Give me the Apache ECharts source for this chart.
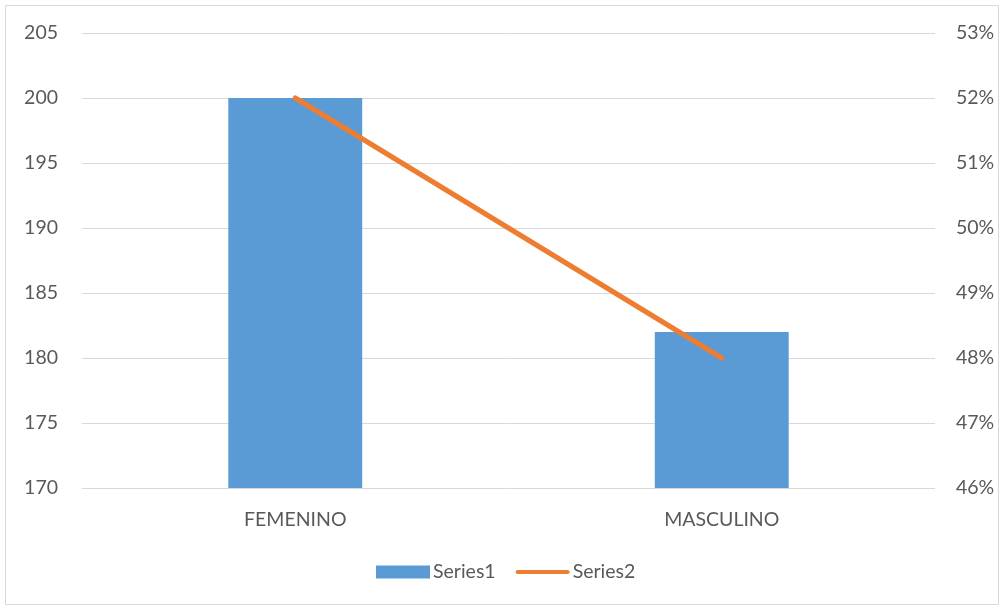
<!DOCTYPE html>
<html><head><meta charset="utf-8">
<script src="https://cdn.jsdelivr.net/npm/echarts@6/dist/echarts.min.js"></script>
<style>html,body{margin:0;padding:0;background:#fff}#c{width:1005px;height:608px}</style>
</head><body><div id="c"></div>
<script>
const categories = ['FEMENINO', 'MASCULINO'];
const series1 = [200, 182];
const series2 = [0.52, 0.48];
const leftTicks = [170, 205, 5];
const rightTicks = [0.46, 0.53, 0.01];

const chart = echarts.init(document.getElementById('c'));
const font = 'Lato, "Open Sans", sans-serif';
const fs = 19.5;
chart.setOption({
  animation: false,
  textStyle: { fontFamily: font },
  graphic: [{ type: 'rect', shape: { x: 5.5, y: 5.5, width: 993, height: 599 }, style: { fill: 'none', stroke: '#d9d9d9', lineWidth: 1 }, silent: true }],
  grid: { left: 82, right: 70, top: 33, bottom: 120, containLabel: false },
  legend: {
    left: 371, top: 557,
    itemWidth: 54, itemHeight: 13, itemGap: 20,
    textStyle: { color: '#595959', fontSize: fs, fontFamily: font, padding: [0, 0, 0, -2] },
    data: [
      { name: 'Series1', icon: 'rect' },
      { name: 'Series2', icon: 'path://M0,0 L0,0.001 Z M0,13 L0,13.001 Z M2,4.5 L52,4.5 A2,2 0 0 1 52,8.5 L2,8.5 A2,2 0 0 1 2,4.5 Z' }
    ]
  },
  xAxis: {
    type: 'category', data: categories,
    axisLine: { show: false }, axisTick: { show: false },
    axisLabel: { color: '#595959', fontSize: fs, margin: 22, fontFamily: font }
  },
  yAxis: [
    { type: 'value', min: leftTicks[0], max: leftTicks[1], interval: leftTicks[2],
      axisLine: { show: false }, axisTick: { show: false },
      axisLabel: { color: '#595959', fontSize: fs, margin: 24, fontFamily: font },
      splitLine: { lineStyle: { color: '#d9d9d9', width: 1 } } },
    { type: 'value', min: rightTicks[0], max: rightTicks[1], interval: rightTicks[2],
      axisLine: { show: false }, axisTick: { show: false },
      axisLabel: { color: '#595959', fontSize: fs, margin: 21, fontFamily: font,
        formatter: v => Math.round(v * 100) + '%' },
      splitLine: { show: false } }
  ],
  series: [
    { name: 'Series1', type: 'bar', data: series1, barWidth: '31.4%',
      itemStyle: { color: '#5B9BD5' } },
    { name: 'Series2', type: 'line', yAxisIndex: 1, data: series2, symbol: 'none',
      lineStyle: { color: '#ED7D31', width: 5, cap: 'round' }, itemStyle: { color: '#ED7D31' } }
  ]
});
</script></body></html>
